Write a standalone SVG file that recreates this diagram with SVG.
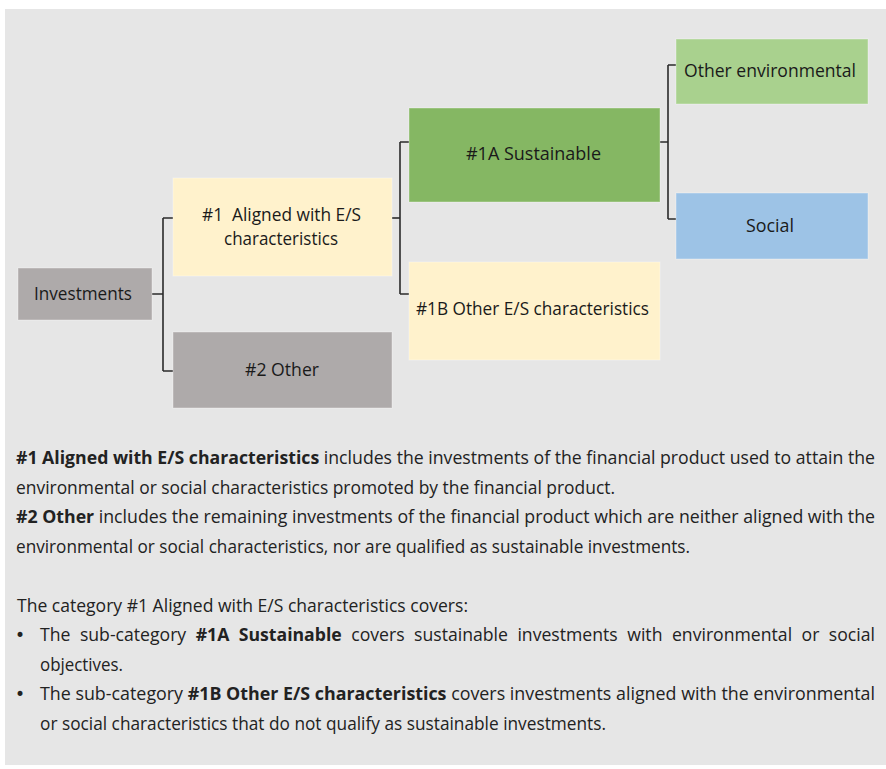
<svg xmlns="http://www.w3.org/2000/svg" width="886" height="769" viewBox="0 0 886 769">
<style>
.box{stroke:#ffffff;stroke-opacity:0.35;stroke-width:1}
.lbl{font-family:"Open Sans","Noto Sans","DejaVu Sans",sans-serif;font-size:17.4px;fill:#1a1a1a;text-anchor:middle}
.para{font-family:"Open Sans","Noto Sans","DejaVu Sans",sans-serif;font-size:18px;fill:#222222}
.b{font-weight:bold}
.bul{font-family:"DejaVu Sans",sans-serif;font-size:17px;fill:#222222}
.conn{fill:none;stroke:#2b2b2b;stroke-width:1.6}
</style>
<rect x="0" y="0" width="886" height="769" fill="#ffffff"/>
<rect x="5" y="9" width="881" height="756" fill="#e6e6e6"/>
<g id="connectors">
<path class="conn" d="M152 294 H163 M163 218 V371 M163 218 H173 M163 371 H173"/>
<path class="conn" d="M400 142 V294 M400 142 H409 M400 294 H409"/>
<path class="conn" d="M392 218 H400" stroke-width="2.6"/>
<path class="conn" d="M660 142 H668 M668 65 V219 M668 65 H676 M668 219 H676"/>
</g>
<g id="investments">
<rect class="box" x="18" y="268" width="134" height="52" fill="#aeaaaa"/>
<text class="lbl" x="83" y="300" textLength="98" lengthAdjust="spacingAndGlyphs">Investments</text>
</g>
<g id="aligned">
<rect class="box" x="173" y="178" width="219" height="98" fill="#fff2cc"/>
<text class="lbl" x="281.5" y="221" textLength="159" lengthAdjust="spacingAndGlyphs">#1&#160; Aligned with E/S</text>
<text class="lbl" x="281" y="245" textLength="114" lengthAdjust="spacingAndGlyphs">characteristics</text>
</g>
<g id="other">
<rect class="box" x="173" y="332" width="219" height="76" fill="#aeaaaa"/>
<text class="lbl" x="282" y="376" textLength="74" lengthAdjust="spacingAndGlyphs">#2 Other</text>
</g>
<g id="sustainable">
<rect class="box" x="409" y="108" width="251" height="94" fill="#85b763"/>
<text class="lbl" x="533.5" y="160" textLength="135" lengthAdjust="spacingAndGlyphs">#1A Sustainable</text>
</g>
<g id="other-es">
<rect class="box" x="409" y="262" width="251" height="98" fill="#fff2cc"/>
<text class="lbl" x="532.5" y="315" textLength="233" lengthAdjust="spacingAndGlyphs">#1B Other E/S characteristics</text>
</g>
<g id="other-environmental">
<rect class="box" x="676" y="39" width="192" height="65" fill="#a9d18e"/>
<text class="lbl" x="770" y="77" textLength="172" lengthAdjust="spacingAndGlyphs">Other environmental</text>
</g>
<g id="social">
<rect class="box" x="676" y="193" width="192" height="66" fill="#9dc3e6"/>
<text class="lbl" x="770" y="232" textLength="48" lengthAdjust="spacingAndGlyphs">Social</text>
</g>
<g id="notes">
<text class="para" x="16" y="464" textLength="859" lengthAdjust="spacingAndGlyphs"><tspan class="b">#1 Aligned with E/S characteristics</tspan> includes the investments of the financial product used to attain the</text>
<text class="para" x="16" y="493.5" textLength="599" lengthAdjust="spacingAndGlyphs">environmental or social characteristics promoted by the financial product.</text>
<text class="para" x="16" y="523" textLength="859" lengthAdjust="spacingAndGlyphs"><tspan class="b">#2 Other</tspan> includes the remaining investments of the financial product which are neither aligned with the</text>
<text class="para" x="16" y="552.5" textLength="674" lengthAdjust="spacingAndGlyphs">environmental or social characteristics, nor are qualified as sustainable investments.</text>
<text class="para" x="17" y="611.5" textLength="451" lengthAdjust="spacingAndGlyphs">The category #1 Aligned with E/S characteristics covers:</text>
<text class="bul" x="15" y="641">•</text>
<text class="para" x="40" y="641" word-spacing="5" textLength="835" lengthAdjust="spacingAndGlyphs">The sub-category <tspan class="b">#1A Sustainable</tspan> covers sustainable investments with environmental or social</text>
<text class="para" x="40" y="670.5" textLength="83" lengthAdjust="spacingAndGlyphs">objectives.</text>
<text class="bul" x="15" y="700">•</text>
<text class="para" x="40" y="700" textLength="835" lengthAdjust="spacingAndGlyphs">The sub-category <tspan class="b">#1B Other E/S characteristics</tspan> covers investments aligned with the environmental</text>
<text class="para" x="40" y="729.5" textLength="566" lengthAdjust="spacingAndGlyphs">or social characteristics that do not qualify as sustainable investments.</text>
</g>
</svg>
